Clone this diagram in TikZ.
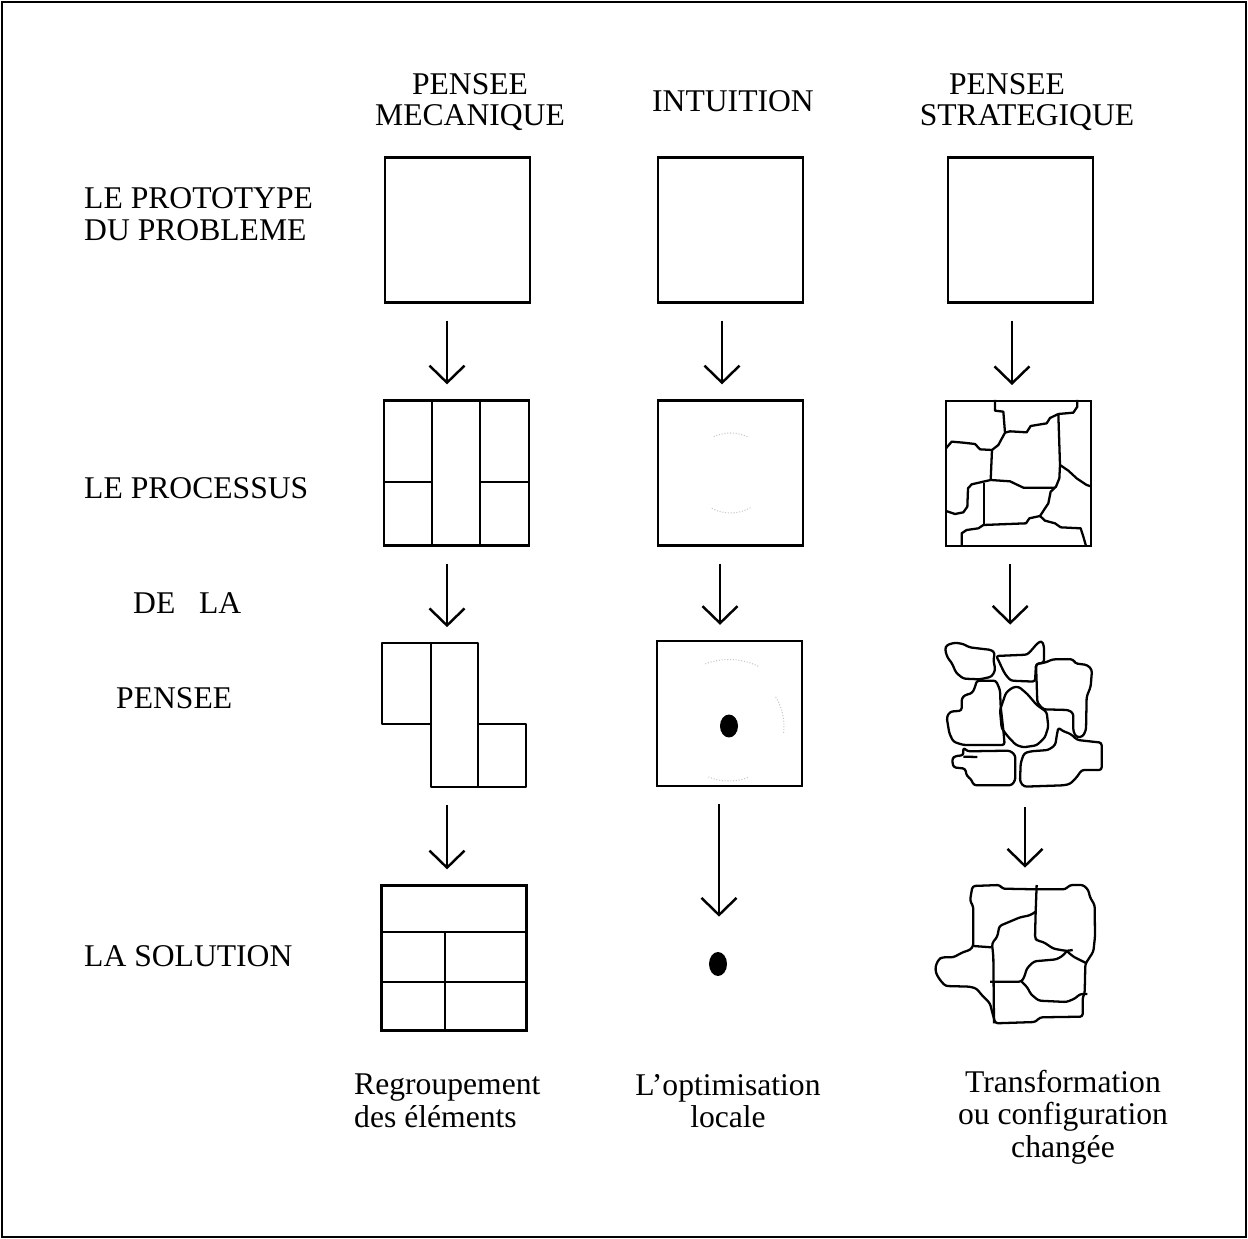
\documentclass[tikz,border=0pt]{standalone}
\usepackage{fontspec}
\setmainfont{Liberation Serif}
\usepackage{tikz}
\usetikzlibrary{arrows.meta, positioning, shapes.geometric}
\tikzset{
	>={Straight Barb[length=0.34cm, width=0.7cm, line width=1.4pt]}, % pointe ouverte en V
	every node/.style={font=\fontsize{18}{18}\selectfont}, % texte du schema
	boite/.style={draw, line width=1.3pt, minimum width=2.9cm, minimum height=2.9cm, inner sep=0pt}, % cases
	zone/.style={minimum width=2.9cm, minimum height=2.9cm, inner sep=0pt}, % case sans bord
	fleche/.style={->, line width=1.1pt, shorten <=0.34cm, shorten >=0.3cm}, % fleches
	trait/.style={line width=1.3pt, line join=round}, % traits des decoupages
	tache/.style={ellipse, fill, minimum width=0.36cm, minimum height=0.48cm, inner sep=0pt}, % point
	flou/.style={gray!45, densely dotted, line width=0.6pt}, % cercles pales
	etiquette/.style={anchor=west, align=left}, % lignes a gauche
	legende/.style={align=center, font=\fontsize{18}{18.5}\selectfont} % textes du bas
}

\begin{document}
\begin{tikzpicture}[x=0.02cm, y=-0.02cm]
	\useasboundingbox (0,0) rectangle (1248,1239);
	\draw[line width=1.2pt] (2,2) rectangle (1246,1237);

	\node[align=center] (t1) at (470,102) {PENSEE\\MECANIQUE};
	\node (t2) at (733,101) {INTUITION};
	\node[align=center] (t3) at (1027,102) {PENSEE\hspace*{0.8cm}\\STRATEGIQUE};

	\node[etiquette] (l1) at (78,214) {LE PROTOTYPE\\DU PROBLEME};
	\node[etiquette] (l2) at (78,488) {LE PROCESSUS};
	\node[etiquette] (l3) at (127,603) {DE~~~LA};
	\node[etiquette] (l4) at (110,698) {PENSEE};
	\node[etiquette] (l5) at (78,956) {LA SOLUTION};

	\node[boite] (A1) at (457.5,230) {};
	\node[boite] (B1) at (730.5,230) {};
	\node[boite] (C1) at (1020.5,230) {};

	\node[boite] (A2) at (456.5,473) {};
	\node[boite] (B2) at (730.5,473) {};
	\node[boite] (C2) at (1018.7,473.7) {};

	\node[zone] (A3) at (454,715) {};
	\node[boite] (B3) at (729.5,713.5) {};
	\node[zone, minimum width=3.16cm, minimum height=3cm] (C3) at (1024,715) {};

	\node[boite] (A4) at (454,958) {};
	\node[tache] (B4) at (718,964) {};
	\node[zone, minimum width=3.3cm, minimum height=2.84cm] (C4) at (1017,954) {};

	\node[legende, align=left, anchor=west] (r1) at (348,1101) {Regroupement\\des éléments};
	\node[legende] (r2) at (728,1101) {L'optimisation\\locale};
	\node[legende] (r3) at (1063,1117) {Transformation\\ou configuration\\changée};

	\draw[fleche] ([xshift=-0.21cm]A1.south) -- ([xshift=-0.21cm]A1.south |- A2.north);
	\draw[fleche] ([xshift=-0.19cm]A2.south) -- ([xshift=-0.19cm]A2.south |- A3.north);
	\draw[fleche] ([xshift=-0.14cm]A3.south) -- ([xshift=-0.14cm]A3.south |- A4.north);
	\draw[fleche] ([xshift=-0.17cm]B1.south) -- ([xshift=-0.17cm]B1.south |- B2.north);
	\draw[fleche] ([xshift=-0.21cm]B2.south) -- ([xshift=-0.21cm]B2.south |- B3.north);
	\draw[fleche, shorten >=0.7cm] ([xshift=-0.21cm]B3.south) -- ([xshift=-0.21cm]B3.south |- B4.north);
	\draw[fleche] ([xshift=-0.17cm]C1.south) -- ([xshift=-0.17cm]C1.south |- C2.north);
	\draw[fleche] ([xshift=-0.17cm]C2.south) -- ([xshift=-0.17cm]C2.south |- C3.north);
	\draw[fleche] ([xshift=0.02cm]C3.south) -- ([xshift=0.02cm]C3.south |- C4.north);

	\draw[trait] (A2.north -| 432,0) -- (A2.south -| 432,0);
	\draw[trait] (A2.north -| 480,0) -- (A2.south -| 480,0);
	\draw[trait] (A2.west |- 0,482) -- (432,482) (480,482) -- (A2.east |- 0,482);

	\draw[trait] (382,643) rectangle (431,724);
	\draw[trait] (431,643) rectangle (478,787);
	\draw[trait] (478,724) rectangle (526,787);

	\draw[trait] (A4.west |- 0,932) -- (A4.east |- 0,932);
	\draw[trait] (A4.west |- 0,982) -- (A4.east |- 0,982);
	\draw[trait] (445,932) -- (A4.south -| 445,0);

	\draw[flou] (B2.center) ++(65:0.8cm) arc[start angle=65, end angle=115, radius=0.8cm];
	\draw[flou] (B2.center) ++(-60:0.8cm) arc[start angle=-60, end angle=-120, radius=0.8cm];
	\node[tache, minimum width=0.36cm, minimum height=0.46cm] (p3) at (729,726) {};
	\draw[flou] (p3.center) ++(64:1.33cm) arc[start angle=64, end angle=112, radius=1.33cm];
	\draw[flou] (p3.center) ++(32:1.1cm) arc[start angle=32, end angle=-8, radius=1.1cm];
	\draw[flou] (p3.center) ++(-70:1.1cm) arc[start angle=-70, end angle=-112, radius=1.1cm];

	\begin{scope}[shift={(930,390)}, scale=1/3]
		\draw[trait] (195,30) -- (195,62) -- (220,65) -- (225,128) -- (205,165) -- (186,180) -- (182,270);
		\draw[trait] (48,175) -- (65,155) -- (100,158) -- (135,162) -- (150,178) -- (186,180);
		\draw[trait] (225,128) -- (240,124) -- (290,127) -- (302,108) -- (350,100) -- (360,84) -- (385,72) -- (430,68) -- (442,50) -- (442,30);
		\draw[trait] (385,72) -- (390,225) -- (415,242) -- (440,265) -- (470,285) -- (485,290);
		\draw[trait] (390,225) -- (388,265) -- (378,290) -- (362,305) -- (355,340) -- (330,378);
		\draw[trait] (330,378) -- (345,392) -- (375,400) -- (392,412) -- (452,415) -- (460,440) -- (468,468);
		\draw[trait] (330,378) -- (298,385) -- (288,400) -- (160,405) -- (145,415) -- (110,420) -- (95,430) -- (95,470);
		\draw[trait] (182,270) -- (240,274) -- (280,293) -- (375,293);
		\draw[trait] (182,270) -- (125,283) -- (114,295) -- (112,350) -- (100,367) -- (75,372) -- (48,363);
		\draw[trait] (162,280) -- (162,405);
	\end{scope}

	\begin{scope}[shift={(930,630)}, scale=1/3, rounded corners=1.5pt]
		\draw[trait] (50,45) -- (75,38) -- (100,42) -- (118,52) -- (185,60) -- (195,70) -- (190,88) -- (196,120) -- (185,140) -- (150,148) -- (100,146) -- (78,128) -- (66,100) -- (52,82) -- (45,58) -- cycle;
		\draw[trait] (198,78) -- (292,74) -- (305,60) -- (322,40) -- (335,32) -- (342,48) -- (342,98) -- (318,102) -- (315,155) -- (242,152) -- (225,132) -- (214,110) -- (206,92) -- cycle;
		\draw[trait] (318,102) -- (345,98) -- (368,88) -- (430,88) -- (435,100) -- (472,105) -- (486,120) -- (482,170) -- (470,200) -- (468,300) -- (458,320) -- (440,322) -- (430,305) -- (430,250) -- (415,240) -- (340,238) -- (322,218) -- cycle;
		\draw[trait] (140,152) -- (198,152) -- (210,180) -- (212,230) -- (220,300) -- (224,345) -- (100,345) -- (70,335) -- (58,310) -- (50,262) -- (60,245) -- (95,242) -- (95,205) -- (105,195) -- (126,190) -- (135,172) -- cycle;
		\draw[trait] (228,188) -- (248,172) -- (266,170) -- (292,192) -- (320,225) -- (350,246) -- (355,290) -- (345,322) -- (320,346) -- (280,352) -- (258,345) -- (234,320) -- (215,295) -- (210,240) -- cycle;
		\draw[trait] (385,292) -- (396,302) -- (422,312) -- (442,330) -- (515,338) -- (515,420) -- (455,420) -- (440,442) -- (420,462) -- (400,466) -- (282,470) -- (270,455) -- (272,400) -- (282,370) -- (302,364) -- (355,360) -- (376,345) -- (380,318) -- cycle;
		\draw[trait] (100,352) -- (112,364) -- (240,362) -- (256,376) -- (256,450) -- (245,466) -- (132,466) -- (122,446) -- (110,438) -- (106,416) -- (70,412) -- (66,386) -- (76,378) -- (100,376) -- cycle;
		\draw[trait] (100,380) -- (142,381);
	\end{scope}

	\begin{scope}[shift={(920,870)}, scale=1/3, rounded corners=1.5pt]
		\draw[trait] (158,48) -- (240,45) -- (246,56) -- (350,58) -- (436,58) -- (450,45) -- (490,45) -- (505,60) -- (510,82) -- (524,105) -- (525,200) -- (520,245) -- (505,268) -- (496,282) -- (494,370) -- (488,382) -- (488,440) -- (360,442) -- (346,456) -- (226,460) -- (218,432) -- (210,400) -- (186,376) -- (170,356) -- (150,350) -- (76,348) -- (60,330) -- (48,310) -- (46,290) -- (56,268) -- (66,262) -- (100,262) -- (130,246) -- (150,240) -- (160,228) -- (160,110) -- (150,92) -- (155,62) -- cycle;
		\draw[trait] (350,45) -- (347,125) -- (345,205) -- (352,212) -- (370,216) -- (400,236) -- (440,243) -- (458,240);
		\draw[trait] (440,243) -- (460,260) -- (480,270) -- (500,280);
		\draw[trait] (347,125) -- (330,136) -- (300,142) -- (262,158) -- (238,168) -- (232,200) -- (216,220) -- (220,260) -- (222,460);
		\draw[trait] (160,228) -- (215,232);
		\draw[trait] (210,335) -- (305,335) -- (314,318) -- (320,296) -- (342,274) -- (410,268) -- (430,256) -- (440,243);
		\draw[trait] (305,335) -- (322,352) -- (332,372) -- (356,392) -- (440,396) -- (466,385) -- (480,372) -- (502,372);
	\end{scope}
\end{tikzpicture}
\end{document}
